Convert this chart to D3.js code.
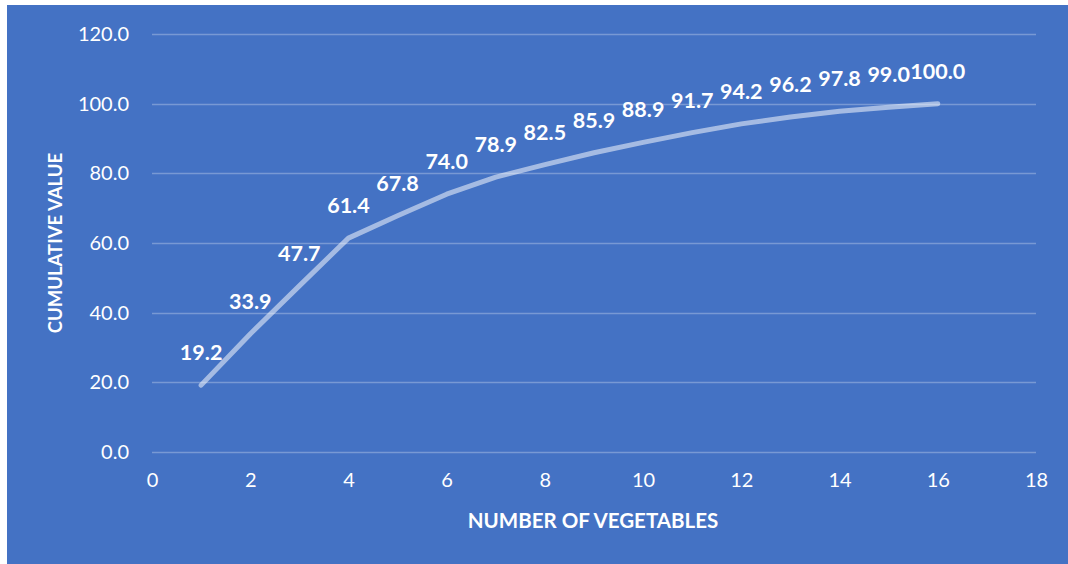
<!DOCTYPE html>
<html>
<head>
<meta charset="utf-8">
<script src="https://cdn.jsdelivr.net/npm/d3@7"></script>
<style>
  html, body { margin: 0; padding: 0; background: #ffffff; }
  svg { display: block; }
  text { font-family: Lato, "Open Sans", sans-serif; fill: #ffffff; }
</style>
</head>
<body>
<svg id="chart" width="1068" height="564"></svg>
<script>
// Cumulative share by number of vegetables
const vegetableCounts = [1, 2, 3, 4, 5, 6, 7, 8, 9, 10, 11, 12, 13, 14, 15, 16];
const cumulativeValues = [19.2, 33.9, 47.7, 61.4, 67.8, 74.0, 78.9, 82.5, 85.9, 88.9, 91.7, 94.2, 96.2, 97.8, 99.0, 100.0];
const xTicks = [0, 2, 4, 6, 8, 10, 12, 14, 16, 18];
const yTicks = [0, 20, 40, 60, 80, 100, 120];
const xTitle = "NUMBER OF VEGETABLES";
const yTitle = "CUMULATIVE VALUE";

const svg = d3.select("#chart");
const W = 1068, H = 564;

// chart background
svg.append("rect")
  .attr("x", 7).attr("y", 5)
  .attr("width", W - 7).attr("height", H - 5)
  .attr("fill", "#4472C4");

const plot = { left: 152, right: 1036, top: 34, bottom: 452 };

const x = d3.scaleLinear().domain([0, 18]).range([plot.left, plot.right]);
const y = d3.scaleLinear().domain([0, 120]).range([plot.bottom, plot.top]);

// horizontal gridlines
svg.append("g")
  .selectAll("line")
  .data(yTicks)
  .join("line")
  .attr("x1", plot.left).attr("x2", plot.right)
  .attr("y1", d => Math.round(y(d)) + 0.5).attr("y2", d => Math.round(y(d)) + 0.5)
  .attr("stroke", "#ffffff")
  .attr("stroke-opacity", 0.28)
  .attr("stroke-width", 1.5);

// y axis labels
const yAxis = d3.axisLeft(y).tickValues(yTicks).tickFormat(d3.format(".1f")).tickSize(0).tickPadding(0);
const gy = svg.append("g").attr("transform", `translate(${plot.left - 23},0)`).call(yAxis);
gy.select(".domain").remove();
gy.selectAll("text")
  .attr("fill", "#ffffff")
  .attr("font-family", "Lato, 'Open Sans', sans-serif")
  .attr("font-size", 20);

// x axis labels
const xAxis = d3.axisBottom(x).tickValues(xTicks).tickFormat(d3.format("d")).tickSize(0).tickPadding(0);
const gx = svg.append("g").attr("transform", `translate(0,${plot.bottom + 21})`).call(xAxis);
gx.select(".domain").remove();
gx.selectAll("text")
  .attr("fill", "#ffffff")
  .attr("font-family", "Lato, 'Open Sans', sans-serif")
  .attr("font-size", 20);

// cumulative line
const points = vegetableCounts.map((n, i) => ({ n, v: cumulativeValues[i] }));
const line = d3.line().x(d => x(d.n)).y(d => y(d.v));
svg.append("path")
  .datum(points)
  .attr("d", line)
  .attr("fill", "none")
  .attr("stroke", "#ffffff")
  .attr("stroke-opacity", 0.52)
  .attr("stroke-width", 5)
  .attr("stroke-linecap", "round")
  .attr("stroke-linejoin", "round");

// value labels
svg.append("g")
  .selectAll("text")
  .data(points)
  .join("text")
  .attr("x", d => x(d.n))
  .attr("y", d => y(d.v) - 33)
  .attr("text-anchor", "middle")
  .attr("dominant-baseline", "central")
  .attr("font-size", 21.5)
  .attr("font-weight", "bold")
  .text(d => d.v.toFixed(1));

// axis titles
svg.append("text")
  .attr("x", 593).attr("y", 520)
  .attr("text-anchor", "middle")
  .attr("dominant-baseline", "central")
  .attr("font-size", 20.5)
  .attr("font-weight", "bold")
  .text(xTitle);

svg.append("text")
  .attr("transform", "translate(55,243) rotate(-90)")
  .attr("text-anchor", "middle")
  .attr("dominant-baseline", "central")
  .attr("font-size", 18.5)
  .attr("font-weight", "bold")
  .text(yTitle);
</script>
</body>
</html>
